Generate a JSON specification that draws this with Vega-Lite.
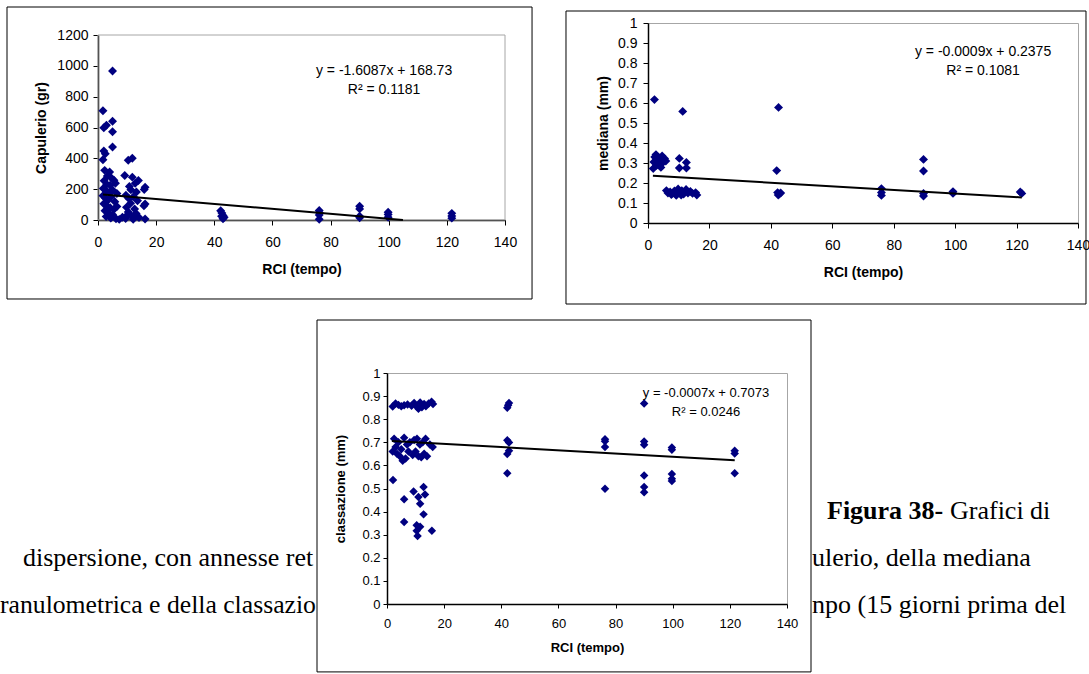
{
  "$schema": "https://vega.github.io/schema/vega-lite/v6.json",
  "background": "white",
  "padding": {"left": 0, "top": 6, "right": 0, "bottom": 0},
  "datasets": {
    "cap": [
      {"rci":5.0,"cap":967},{"rci":1.7,"cap":709},{"rci":2.0,"cap":598},{"rci":2.9,"cap":615},{"rci":5.0,"cap":641},
      {"rci":5.0,"cap":572},{"rci":5.0,"cap":474},{"rci":2.0,"cap":448},{"rci":2.5,"cap":430},{"rci":1.7,"cap":391},
      {"rci":2.3,"cap":322},{"rci":4.0,"cap":311},{"rci":3.2,"cap":285},{"rci":4.6,"cap":272},{"rci":5.5,"cap":258},
      {"rci":2.1,"cap":255},{"rci":3.0,"cap":232},{"rci":4.2,"cap":225},{"rci":6.0,"cap":238},{"rci":1.8,"cap":205},
      {"rci":2.8,"cap":190},{"rci":3.8,"cap":178},{"rci":5.0,"cap":195},{"rci":6.5,"cap":172},{"rci":1.7,"cap":158},
      {"rci":2.5,"cap":142},{"rci":3.5,"cap":130},{"rci":4.5,"cap":150},{"rci":5.8,"cap":118},{"rci":2.0,"cap":105},
      {"rci":3.0,"cap":92},{"rci":4.2,"cap":80},{"rci":5.5,"cap":70},{"rci":6.5,"cap":88},{"rci":2.4,"cap":60},
      {"rci":3.6,"cap":45},{"rci":5.0,"cap":35},{"rci":2.8,"cap":22},{"rci":4.4,"cap":12},{"rci":6.2,"cap":8},
      {"rci":7.3,"cap":4},{"rci":8.4,"cap":18},{"rci":9.2,"cap":289},{"rci":10.4,"cap":387},{"rci":11.8,"cap":400},
      {"rci":11.8,"cap":278},{"rci":13.9,"cap":256},{"rci":12.8,"cap":238},{"rci":10.8,"cap":218},{"rci":11.3,"cap":196},
      {"rci":13.2,"cap":182},{"rci":16.2,"cap":213},{"rci":15.9,"cap":198},{"rci":9.6,"cap":160},{"rci":10.6,"cap":140},
      {"rci":12.1,"cap":150},{"rci":13.6,"cap":125},{"rci":11.2,"cap":108},{"rci":16.2,"cap":104},{"rci":15.8,"cap":92},
      {"rci":9.8,"cap":82},{"rci":12.6,"cap":72},{"rci":10.4,"cap":52},{"rci":13.1,"cap":42},{"rci":11.6,"cap":26},
      {"rci":14.1,"cap":16},{"rci":16.2,"cap":7},{"rci":9.5,"cap":10},{"rci":12.1,"cap":5},{"rci":10.1,"cap":32},
      {"rci":42.2,"cap":60},{"rci":42.6,"cap":45},{"rci":43.0,"cap":30},{"rci":43.4,"cap":18},{"rci":43.0,"cap":8},{"rci":42.5,"cap":25},
      {"rci":76.1,"cap":62},{"rci":76.1,"cap":48},{"rci":76.1,"cap":32},{"rci":76.1,"cap":5},
      {"rci":90.0,"cap":89},{"rci":90.0,"cap":72},{"rci":90.0,"cap":24},{"rci":90.0,"cap":15},
      {"rci":99.8,"cap":50},{"rci":99.8,"cap":36},{"rci":99.8,"cap":18},
      {"rci":121.7,"cap":43},{"rci":121.7,"cap":26},{"rci":121.7,"cap":12}
    ],
    "capFit": [{"rci":1.7,"cap":166.0},{"rci":104.9,"cap":0}],
    "med": [
      {"rci":2.1,"med":0.617},{"rci":11.3,"med":0.558},{"rci":1.7,"med":0.272},{"rci":1.9,"med":0.305},{"rci":2.2,"med":0.33},
      {"rci":2.6,"med":0.342},{"rci":3.0,"med":0.312},{"rci":3.4,"med":0.325},{"rci":3.8,"med":0.29},{"rci":4.2,"med":0.278},
      {"rci":4.6,"med":0.335},{"rci":5.0,"med":0.305},{"rci":5.4,"med":0.322},{"rci":5.8,"med":0.31},{"rci":2.8,"med":0.288},
      {"rci":4.0,"med":0.318},{"rci":10.2,"med":0.323},{"rci":12.5,"med":0.303},{"rci":10.2,"med":0.275},{"rci":12.5,"med":0.275},
      {"rci":6.0,"med":0.162},{"rci":6.5,"med":0.15},{"rci":7.2,"med":0.155},{"rci":8.0,"med":0.148},{"rci":8.6,"med":0.16},
      {"rci":9.2,"med":0.138},{"rci":9.8,"med":0.17},{"rci":10.3,"med":0.152},{"rci":11.0,"med":0.162},{"rci":11.6,"med":0.145},
      {"rci":12.4,"med":0.168},{"rci":13.0,"med":0.15},{"rci":13.8,"med":0.158},{"rci":14.5,"med":0.148},{"rci":15.5,"med":0.152},
      {"rci":15.9,"med":0.14},{"rci":7.6,"med":0.142},{"rci":10.8,"med":0.14},
      {"rci":42.5,"med":0.578},{"rci":41.9,"med":0.262},{"rci":42.2,"med":0.152},{"rci":42.7,"med":0.145},{"rci":43.2,"med":0.15},{"rci":42.4,"med":0.14},
      {"rci":76.0,"med":0.172},{"rci":76.0,"med":0.152},{"rci":76.0,"med":0.138},
      {"rci":89.7,"med":0.318},{"rci":89.7,"med":0.26},{"rci":89.7,"med":0.148},{"rci":89.7,"med":0.135},
      {"rci":99.3,"med":0.157},{"rci":99.3,"med":0.148},
      {"rci":121.2,"med":0.155},{"rci":121.7,"med":0.148}
    ],
    "medFit": [{"rci":1.6,"med":0.2361},{"rci":121.7,"med":0.128}],
    "cla": [
      {"rci":2.0,"cla":0.855},{"rci":3.0,"cla":0.868},{"rci":4.0,"cla":0.862},{"rci":5.0,"cla":0.856},{"rci":6.0,"cla":0.86},
      {"rci":7.2,"cla":0.864},{"rci":8.6,"cla":0.858},{"rci":9.5,"cla":0.87},{"rci":10.4,"cla":0.855},{"rci":11.0,"cla":0.845},
      {"rci":11.6,"cla":0.872},{"rci":12.2,"cla":0.852},{"rci":13.0,"cla":0.866},{"rci":13.6,"cla":0.856},{"rci":14.6,"cla":0.868},
      {"rci":15.6,"cla":0.876},{"rci":16.1,"cla":0.866},
      {"rci":2.5,"cla":0.715},{"rci":3.0,"cla":0.68},{"rci":2.0,"cla":0.66},{"rci":3.5,"cla":0.65},{"rci":4.0,"cla":0.7},
      {"rci":4.5,"cla":0.64},{"rci":5.0,"cla":0.67},{"rci":5.5,"cla":0.62},{"rci":6.0,"cla":0.72},{"rci":6.5,"cla":0.63},
      {"rci":7.0,"cla":0.69},{"rci":7.5,"cla":0.66},{"rci":8.0,"cla":0.7},{"rci":9.0,"cla":0.645},{"rci":9.5,"cla":0.71},
      {"rci":10.0,"cla":0.66},{"rci":10.5,"cla":0.715},{"rci":11.0,"cla":0.64},{"rci":11.5,"cla":0.69},{"rci":12.0,"cla":0.635},
      {"rci":12.5,"cla":0.7},{"rci":13.0,"cla":0.65},{"rci":13.5,"cla":0.715},{"rci":14.0,"cla":0.64},{"rci":15.0,"cla":0.69},
      {"rci":16.0,"cla":0.68},
      {"rci":2.1,"cla":0.537},{"rci":6.0,"cla":0.453},{"rci":6.0,"cla":0.355},{"rci":9.3,"cla":0.487},{"rci":12.8,"cla":0.506},
      {"rci":13.3,"cla":0.474},{"rci":11.0,"cla":0.463},{"rci":11.6,"cla":0.434},{"rci":12.8,"cla":0.388},{"rci":10.4,"cla":0.341},
      {"rci":11.6,"cla":0.334},{"rci":10.4,"cla":0.317},{"rci":10.7,"cla":0.294},{"rci":15.7,"cla":0.317},
      {"rci":42.1,"cla":0.85},{"rci":42.4,"cla":0.86},{"rci":42.7,"cla":0.87},{"rci":42.1,"cla":0.566},{"rci":42.1,"cla":0.649},
      {"rci":42.7,"cla":0.663},{"rci":42.7,"cla":0.699},{"rci":42.1,"cla":0.709},
      {"rci":76.3,"cla":0.713},{"rci":76.3,"cla":0.705},{"rci":76.3,"cla":0.68},{"rci":76.3,"cla":0.499},
      {"rci":90.0,"cla":0.868},{"rci":90.0,"cla":0.703},{"rci":90.0,"cla":0.689},{"rci":90.0,"cla":0.556},{"rci":90.0,"cla":0.506},{"rci":90.0,"cla":0.484},
      {"rci":99.7,"cla":0.678},{"rci":99.7,"cla":0.668},{"rci":99.7,"cla":0.563},{"rci":99.7,"cla":0.542},{"rci":99.7,"cla":0.532},
      {"rci":121.7,"cla":0.663},{"rci":121.7,"cla":0.652},{"rci":121.7,"cla":0.566}
    ],
    "claFit": [{"rci":1.7,"cla":0.7061},{"rci":121.7,"cla":0.6221}]
  },
  "vconcat": [
    {
      "concat": [
        {
          "width": 407, "height": 197,
          "view": {"stroke": null},
          "layer": [
            {
              "data": {"values": [{}]},
              "mark": {"type": "rect", "fillOpacity": 0, "stroke": "black", "strokeWidth": 1, "clip": false},
              "encoding": {
                "x": {"datum": -31.3, "type": "quantitative", "title": "RCI (tempo)", "scale": {"domain": [0, 140], "nice": false, "zero": false}, "axis": {"values": [0,20,40,60,80,100,120,140], "format": "d", "labelPadding": 10, "titlePadding": 13}},
                "x2": {"datum": 149.3},
                "y": {"datum": 1381.6, "type": "quantitative", "title": "Capulerio (gr)", "scale": {"domain": [0, 1200], "range": [197, 12], "nice": false}, "axis": {"values": [0,200,400,600,800,1000,1200], "format": "d", "labelPadding": 5, "titlePadding": 8}},
                "y2": {"datum": -512.4}
              }
            },
            {
              "data": {"values": [{}]},
              "mark": {"type": "rect", "fillOpacity": 0, "stroke": "#a6a6a6", "strokeWidth": 1},
              "encoding": {
                "x": {"datum": 0, "type": "quantitative", "title": "RCI (tempo)", "scale": {"domain": [0, 140], "nice": false, "zero": false}, "axis": {"values": [0,20,40,60,80,100,120,140], "format": "d", "labelPadding": 10, "titlePadding": 13}},
                "x2": {"datum": 140},
                "y": {"datum": 1200, "type": "quantitative", "title": "Capulerio (gr)", "scale": {"domain": [0, 1200], "range": [197, 12], "nice": false}, "axis": {"values": [0,200,400,600,800,1000,1200], "format": "d", "labelPadding": 5, "titlePadding": 8}},
                "y2": {"datum": 0}
              }
            },
            {
              "data": {"name": "cap"},
              "mark": {"type": "point", "shape": "diamond", "filled": true, "color": "#000080", "size": 80, "opacity": 1},
              "encoding": {
                "x": {"field": "rci", "type": "quantitative", "title": "RCI (tempo)", "scale": {"domain": [0, 140], "nice": false, "zero": false}, "axis": {"values": [0,20,40,60,80,100,120,140], "format": "d", "labelPadding": 10, "titlePadding": 13}},
                "y": {"field": "cap", "type": "quantitative", "title": "Capulerio (gr)", "scale": {"domain": [0, 1200], "range": [197, 12], "nice": false}, "axis": {"values": [0,200,400,600,800,1000,1200], "format": "d", "labelPadding": 5, "titlePadding": 8}}
              }
            },
            {
              "data": {"name": "capFit"},
              "mark": {"type": "line", "color": "black", "strokeWidth": 2},
              "encoding": {
                "x": {"field": "rci", "type": "quantitative", "title": "RCI (tempo)", "scale": {"domain": [0, 140], "nice": false, "zero": false}, "axis": {"values": [0,20,40,60,80,100,120,140], "format": "d", "labelPadding": 10, "titlePadding": 13}},
                "y": {"field": "cap", "type": "quantitative", "title": "Capulerio (gr)", "scale": {"domain": [0, 1200], "range": [197, 12], "nice": false}, "axis": {"values": [0,200,400,600,800,1000,1200], "format": "d", "labelPadding": 5, "titlePadding": 8}}
              }
            },
            {
              "data": {"values": [{}]},
              "mark": {"type": "text", "text": ["y = -1.6087x + 168.73", "R² = 0.1181"], "align": "center", "baseline": "alphabetic", "lineHeight": 19, "fontSize": 14, "color": "black"},
              "encoding": {
                "x": {"datum": 98.4, "type": "quantitative", "title": "RCI (tempo)", "scale": {"domain": [0, 140], "nice": false, "zero": false}, "axis": {"values": [0,20,40,60,80,100,120,140], "format": "d", "labelPadding": 10, "titlePadding": 13}},
                "y": {"datum": 940.5, "type": "quantitative", "title": "Capulerio (gr)", "scale": {"domain": [0, 1200], "range": [197, 12], "nice": false}, "axis": {"values": [0,200,400,600,800,1000,1200], "format": "d", "labelPadding": 5, "titlePadding": 8}}
              }
            }
          ]
        },
        {
          "width": 430, "height": 200,
          "view": {"stroke": "#a6a6a6"},
          "layer": [
            {
              "data": {"values": [{}]},
              "mark": {"type": "rect", "fillOpacity": 0, "stroke": "black", "strokeWidth": 1, "clip": false},
              "encoding": {
                "x": {"datum": -26.7, "type": "quantitative", "title": "RCI (tempo)", "scale": {"domain": [0, 140], "nice": false, "zero": false}, "axis": {"values": [0,20,40,60,80,100,120,140], "format": "d", "labelPadding": 10, "titlePadding": 13}},
                "x2": {"datum": 142.6},
                "y": {"datum": 1.06, "type": "quantitative", "title": "mediana (mm)", "scale": {"domain": [0, 1], "nice": false}, "axis": {"values": [0,0.1,0.2,0.3,0.4,0.5,0.6,0.7,0.8,0.9,1], "format": "~g", "labelPadding": 6, "titlePadding": 7}},
                "y2": {"datum": -0.405}
              }
            },
            {
              "data": {"name": "med"},
              "mark": {"type": "point", "shape": "diamond", "filled": true, "color": "#000080", "size": 80, "opacity": 1},
              "encoding": {
                "x": {"field": "rci", "type": "quantitative", "title": "RCI (tempo)", "scale": {"domain": [0, 140], "nice": false, "zero": false}, "axis": {"values": [0,20,40,60,80,100,120,140], "format": "d", "labelPadding": 10, "titlePadding": 13}},
                "y": {"field": "med", "type": "quantitative", "title": "mediana (mm)", "scale": {"domain": [0, 1], "nice": false}, "axis": {"values": [0,0.1,0.2,0.3,0.4,0.5,0.6,0.7,0.8,0.9,1], "format": "~g", "labelPadding": 6, "titlePadding": 7}}
              }
            },
            {
              "data": {"name": "medFit"},
              "mark": {"type": "line", "color": "black", "strokeWidth": 2},
              "encoding": {
                "x": {"field": "rci", "type": "quantitative", "title": "RCI (tempo)", "scale": {"domain": [0, 140], "nice": false, "zero": false}, "axis": {"values": [0,20,40,60,80,100,120,140], "format": "d", "labelPadding": 10, "titlePadding": 13}},
                "y": {"field": "med", "type": "quantitative", "title": "mediana (mm)", "scale": {"domain": [0, 1], "nice": false}, "axis": {"values": [0,0.1,0.2,0.3,0.4,0.5,0.6,0.7,0.8,0.9,1], "format": "~g", "labelPadding": 6, "titlePadding": 7}}
              }
            },
            {
              "data": {"values": [{}]},
              "mark": {"type": "text", "text": ["y = -0.0009x + 0.2375", "R² = 0.1081"], "align": "center", "baseline": "alphabetic", "lineHeight": 19, "fontSize": 14, "color": "black"},
              "encoding": {
                "x": {"datum": 109.1, "type": "quantitative", "title": "RCI (tempo)", "scale": {"domain": [0, 140], "nice": false, "zero": false}, "axis": {"values": [0,20,40,60,80,100,120,140], "format": "d", "labelPadding": 10, "titlePadding": 13}},
                "y": {"datum": 0.835, "type": "quantitative", "title": "mediana (mm)", "scale": {"domain": [0, 1], "nice": false}, "axis": {"values": [0,0.1,0.2,0.3,0.4,0.5,0.6,0.7,0.8,0.9,1], "format": "~g", "labelPadding": 6, "titlePadding": 7}}
              }
            }
          ]
        }
      ],
      "columns": 2,
      "spacing": 31,
      "align": "none"
    },
    {
      "concat": [
        {
          "width": 218, "height": 290,
          "view": {"stroke": null},
          "layer": [
            {
              "data": {"values": [{"line": 2, "t": "dispersione, con annesse ret"}]},
              "mark": {"type": "text", "align": "left", "baseline": "alphabetic", "font": "Liberation Serif", "fontSize": 26, "color": "black", "clip": false, "dx": -75},
              "encoding": {
                "x": {"value": 0},
                "y": {"field": "line", "type": "quantitative", "scale": {"domain": [-2.096, 4.074], "reverse": true, "nice": false, "zero": false}, "axis": null},
                "text": {"field": "t"}
              }
            },
            {
              "data": {"values": [{"line": 3, "t": "ranulometrica e della classazio"}]},
              "mark": {"type": "text", "align": "left", "baseline": "alphabetic", "font": "Liberation Serif", "fontSize": 25.7, "color": "black", "clip": false, "dx": -98},
              "encoding": {
                "x": {"value": 0},
                "y": {"field": "line", "type": "quantitative", "scale": {"domain": [-2.096, 4.074], "reverse": true, "nice": false, "zero": false}, "axis": null},
                "text": {"field": "t"}
              }
            }
          ]
        },
        {
          "width": 400, "height": 231,
          "view": {"stroke": "#a6a6a6"},
          "layer": [
            {
              "data": {"values": [{}]},
              "mark": {"type": "rect", "fillOpacity": 0, "stroke": "black", "strokeWidth": 1, "clip": false},
              "encoding": {
                "x": {"datum": -24.5, "type": "quantitative", "title": "RCI (tempo)", "scale": {"domain": [0, 140], "nice": false, "zero": false}, "axis": {"values": [0,20,40,60,80,100,120,140], "format": "d", "labelPadding": 9, "titlePadding": 11, "tickSize": 4, "labelFontSize": 13, "titleFontSize": 13}},
                "x2": {"datum": 148.4},
                "y": {"datum": 1.2294, "type": "quantitative", "title": "classazione (mm)", "scale": {"domain": [0, 1], "nice": false}, "axis": {"values": [0,0.1,0.2,0.3,0.4,0.5,0.6,0.7,0.8,0.9,1], "format": "~g", "labelPadding": 3, "titlePadding": 14, "tickSize": 4, "labelFontSize": 13, "titleFontSize": 13}},
                "y2": {"datum": -0.294}
              }
            },
            {
              "data": {"name": "cla"},
              "mark": {"type": "point", "shape": "diamond", "filled": true, "color": "#000080", "size": 72, "opacity": 1},
              "encoding": {
                "x": {"field": "rci", "type": "quantitative", "title": "RCI (tempo)", "scale": {"domain": [0, 140], "nice": false, "zero": false}, "axis": {"values": [0,20,40,60,80,100,120,140], "format": "d", "labelPadding": 9, "titlePadding": 11, "tickSize": 4, "labelFontSize": 13, "titleFontSize": 13}},
                "y": {"field": "cla", "type": "quantitative", "title": "classazione (mm)", "scale": {"domain": [0, 1], "nice": false}, "axis": {"values": [0,0.1,0.2,0.3,0.4,0.5,0.6,0.7,0.8,0.9,1], "format": "~g", "labelPadding": 3, "titlePadding": 14, "tickSize": 4, "labelFontSize": 13, "titleFontSize": 13}}
              }
            },
            {
              "data": {"name": "claFit"},
              "mark": {"type": "line", "color": "black", "strokeWidth": 2},
              "encoding": {
                "x": {"field": "rci", "type": "quantitative", "title": "RCI (tempo)", "scale": {"domain": [0, 140], "nice": false, "zero": false}, "axis": {"values": [0,20,40,60,80,100,120,140], "format": "d", "labelPadding": 9, "titlePadding": 11, "tickSize": 4, "labelFontSize": 13, "titleFontSize": 13}},
                "y": {"field": "cla", "type": "quantitative", "title": "classazione (mm)", "scale": {"domain": [0, 1], "nice": false}, "axis": {"values": [0,0.1,0.2,0.3,0.4,0.5,0.6,0.7,0.8,0.9,1], "format": "~g", "labelPadding": 3, "titlePadding": 14, "tickSize": 4, "labelFontSize": 13, "titleFontSize": 13}}
              }
            },
            {
              "data": {"values": [{}]},
              "mark": {"type": "text", "text": ["y = -0.0007x + 0.7073", "R² = 0.0246"], "align": "center", "baseline": "alphabetic", "lineHeight": 18.7, "fontSize": 13, "color": "black"},
              "encoding": {
                "x": {"datum": 111.65, "type": "quantitative", "title": "RCI (tempo)", "scale": {"domain": [0, 140], "nice": false, "zero": false}, "axis": {"values": [0,20,40,60,80,100,120,140], "format": "d", "labelPadding": 9, "titlePadding": 11, "tickSize": 4, "labelFontSize": 13, "titleFontSize": 13}},
                "y": {"datum": 0.896, "type": "quantitative", "title": "classazione (mm)", "scale": {"domain": [0, 1], "nice": false}, "axis": {"values": [0,0.1,0.2,0.3,0.4,0.5,0.6,0.7,0.8,0.9,1], "format": "~g", "labelPadding": 3, "titlePadding": 14, "tickSize": 4, "labelFontSize": 13, "titleFontSize": 13}}
              }
            }
          ]
        },
        {
          "width": 277, "height": 290,
          "view": {"stroke": null},
          "layer": [
            {
              "data": {"values": [{"line": 1, "t": "Figura 38-"}]},
              "mark": {"type": "text", "align": "left", "baseline": "alphabetic", "font": "Liberation Serif", "fontSize": 26, "fontWeight": "bold", "color": "black", "clip": true, "dx": 15},
              "encoding": {
                "x": {"value": 0},
                "y": {"field": "line", "type": "quantitative", "scale": {"domain": [-2.096, 4.074], "reverse": true, "nice": false, "zero": false}, "axis": null},
                "text": {"field": "t"}
              }
            },
            {
              "data": {"values": [{"line": 1, "t": "Grafici di"}]},
              "mark": {"type": "text", "align": "left", "baseline": "alphabetic", "font": "Liberation Serif", "fontSize": 26, "color": "black", "clip": true, "dx": 138},
              "encoding": {
                "x": {"value": 0},
                "y": {"field": "line", "type": "quantitative", "scale": {"domain": [-2.096, 4.074], "reverse": true, "nice": false, "zero": false}, "axis": null},
                "text": {"field": "t"}
              }
            },
            {
              "data": {"values": [{"line": 2, "t": "ulerio, della mediana"}, {"line": 3, "t": "npo (15 giorni prima del"}]},
              "mark": {"type": "text", "align": "left", "baseline": "alphabetic", "font": "Liberation Serif", "fontSize": 26, "color": "black", "clip": true, "dx": 0},
              "encoding": {
                "x": {"value": 0},
                "y": {"field": "line", "type": "quantitative", "scale": {"domain": [-2.096, 4.074], "reverse": true, "nice": false, "zero": false}, "axis": null},
                "text": {"field": "t"}
              }
            }
          ]
        }
      ],
      "columns": 3,
      "spacing": 0,
      "align": "none"
    }
  ],
  "spacing": 14,
  "config": {
    "font": "Liberation Sans",
    "axis": {
      "labelFont": "Liberation Sans", "labelFontSize": 14, "labelColor": "black",
      "titleFont": "Liberation Sans", "titleFontSize": 14, "titleFontWeight": "bold", "titleColor": "black",
      "domainColor": "black", "domainWidth": 1.5, "tickColor": "black", "tickSize": 5, "tickWidth": 1,
      "grid": false, "labelFlush": false, "labelOverlap": false, "zindex": 1
    }
  }
}
